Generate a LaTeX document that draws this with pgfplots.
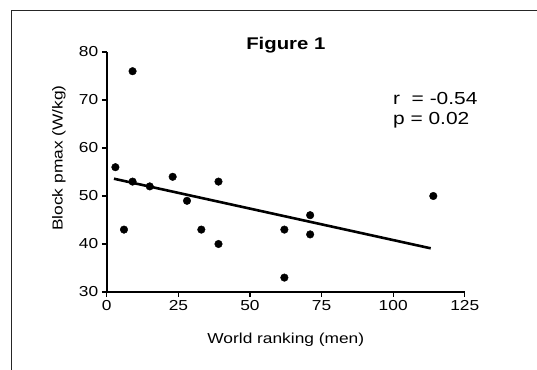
\documentclass[border=0pt]{standalone}
\usepackage{pgfplots}
\pgfplotsset{compat=1.18}
\usepackage{pgfplotstable}
\usepackage{fontspec}
\setmainfont{Liberation Sans}[FakeStretch=1.2]
\pgfplotstableread{
x y
3 56
9 76
9 53
6 43
15 52
23 54
28 49
33 43
39 53
39 40
62 43
62 33
71 46
71 42
114 50
}\datatable
\begin{document}
\begin{tikzpicture}
\useasboundingbox (0,0) rectangle (537bp,370bp);
\draw[line width=1.8bp, black!85] (11.5bp,0bp) -- (11.5bp,359.5bp) -- (537bp,359.5bp);
\begin{axis}[
  at={(106.8bp,78bp)}, anchor=south west, scale only axis,
  width=358bp, height=240bp,
  xmin=0, xmax=125, ymin=30, ymax=80,
  xtick={0,25,50,75,100,125}, ytick={30,40,50,60,70,80},
  axis x line*=bottom, axis y line*=left,
  axis line style={line width=1.6bp, black},
  tick style={line width=1.3bp, black},
  major tick length=5bp, tick align=outside,
  /pgf/number format/assume math mode=true,
  tick label style={font=\fontsize{14.5}{16}\selectfont},
  xlabel={World ranking (men)},
  ylabel={Block pmax (W/kg)},
  xlabel style={at={(axis description cs:0.5,-0.2)}, anchor=center, font=\fontsize{14.5}{16}\selectfont},
  ylabel style={at={(axis description cs:-0.134,0.558)}, anchor=center, font=\fontsize{14.5}{16}\selectfont},
  title={Figure 1},
  every axis title shift=0pt,
  title style={at={(axis description cs:0.5,1.03)}, anchor=center, font=\bfseries\fontsize{17}{19}\selectfont},
  clip=false,
]
\addplot[only marks, mark=*, mark size=3.8bp, black] table[x=x,y=y] {\datatable};
\addplot[black, line width=2.6bp] coordinates {(2.5,53.6) (113.1,39.1)};
\node[anchor=west, align=left, font=\fontsize{17.5}{20}\selectfont] at (axis description cs:0.79,0.758) {r\ \ = -0.54\\p = 0.02};
\end{axis}
\end{tikzpicture}
\end{document}
